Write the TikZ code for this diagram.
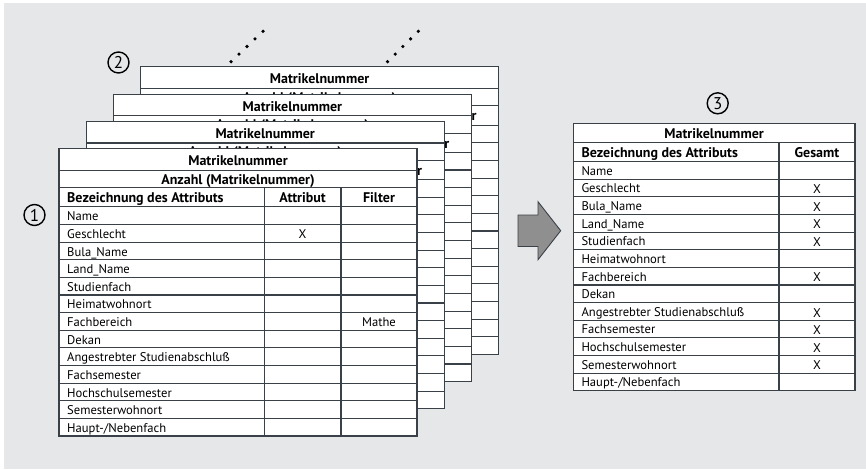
\documentclass[tikz,border=0pt]{standalone}
\usepackage{fontspec}
\setmainfont{PT Sans}
\definecolor{panelbg}{HTML}{E6E7E8}
\definecolor{rulec}{HTML}{3A4048}
\definecolor{arrowfill}{HTML}{8F8F8F}
\begin{document}
\begin{tikzpicture}[x=1pt,y=-1pt,
  rules/.style={draw=rulec,line width=1.1pt},
  celltxt/.style={inner sep=0pt,font=\fontsize{12.6}{13}\selectfont,text=black},
  headtxt/.style={celltxt,font=\fontsize{14}{15}\selectfont\bfseries},
  numcirc/.style={circle,draw=black,line width=1.4pt,minimum size=21pt,inner sep=0pt,
    font=\fontsize{17}{17}\selectfont},
  dotmark/.style={fill=black}]

% canvas
\useasboundingbox (0,0) rectangle (866,469);
\fill[panelbg] (4,3) rectangle (866,469);

% row names of the attribute list
\def\attrlist{Name,Geschlecht,Bula\_Name,Land\_Name,Studienfach,Heimatwohnort,Fachbereich,Dekan,Angestrebter Studienabschluß,Fachsemester,Hochschulsemester,Semesterwohnort,Haupt-/Nebenfach}

% grid and title rows of one selection sheet: #1 name, #2/#3 top left corner
\newcommand\sheetgrid[3]{%
  \begin{scope}[shift={(#2,#3)}]
    \fill[white] (0,0) rectangle (358,287.5);
    \draw[rules] (0,0) rectangle (358,287.5);
    \draw[rules] (0,21.7) -- (358,21.7);
    \draw[rules] (0,39) -- (358,39);
    \draw[rules] (0,58.3) -- (358,58.3);
    \foreach \k in {1,...,12}{\draw[rules] (0,58.3+17.63*\k) -- (358,58.3+17.63*\k);}
    \draw[rules] (205.3,39) -- (205.3,287.5);
    \draw[rules] (282,39) -- (282,287.5);
    \node[headtxt,anchor=base] (#1-t1) at (179,17) {Matrikelnummer};
    \node[headtxt,anchor=base] (#1-t2) at (179,35.5) {Anzahl (Matrikelnummer)};
    \node[headtxt,anchor=base] (#1-h3) at (320,54) {Filter};
  \end{scope}}

% stack of sheets, back to front
\sheetgrid{sheetd}{140.6}{66.9}
\sheetgrid{sheetc}{113.4}{94.1}
\sheetgrid{sheetb}{86.2}{121.3}
\sheetgrid{sheeta}{59}{148.5}

% contents of the front sheet
\begin{scope}[shift={(59,148.5)}]
  \node[headtxt,anchor=base west] (sheeta-h1) at (8,54) {Bezeichnung des Attributs};
  \node[headtxt,anchor=base] (sheeta-h2) at (243.6,54) {Attribut};
  \foreach \a [count=\i] in \attrlist{
    \node[celltxt,anchor=base west] (sheeta-r\i) at (8,58.3+17.63*\i-3.6) {\a};}
  \node[celltxt,anchor=base] (sheeta-x) at (243.6,58.3+17.63*2-3.6) {X};
  \node[celltxt,anchor=base] (sheeta-f) at (320,58.3+17.63*7-3.6) {Mathe};
\end{scope}

% continuation dots above the stack
\foreach \j in {0,...,4}{
  \fill[dotmark] (231+8*\j,61.7-7.6*\j) circle (1.8);
  \fill[dotmark] (387.5+7.7*\j,61.7-7.6*\j) circle (1.8);}

% step markers
\node[numcirc] (m1) at (34.5,215) {1};
\node[numcirc] (m2) at (118.5,62.5) {2};
\node[numcirc] (m3) at (717.7,103.3) {3};

% block arrow
\draw[fill=arrowfill,draw=rulec,line width=0.9pt]
  (518,215) -- (538,215) -- (538,201.7) -- (560.7,230.7) -- (538,259.7)
  -- (538,246.5) -- (518,246.5) -- cycle;

% result table
\begin{scope}[shift={(573.3,123.3)}]
  \fill[white] (0,0) rectangle (281.7,267.4);
  \draw[rules] (0,0) rectangle (281.7,267.4);
  \draw[rules] (0,19) -- (281.7,19);
  \draw[rules] (0,38.4) -- (281.7,38.4);
  \foreach \k in {1,...,12}{\draw[rules] (0,38.4+17.62*\k) -- (281.7,38.4+17.62*\k);}
  \draw[rules] (205.7,19) -- (205.7,267.4);
  \node[headtxt,anchor=base] (res-t1) at (140.8,15) {Matrikelnummer};
  \node[headtxt,anchor=base west] (res-h1) at (8,34.2) {Bezeichnung des Attributs};
  \node[headtxt,anchor=base] (res-h2) at (243.7,34.2) {Gesamt};
  \foreach \a [count=\i] in \attrlist{
    \node[celltxt,anchor=base west] (res-r\i) at (8,38.4+17.62*\i-4) {\a};}
  \foreach \i in {2,3,4,5,7,9,10,11,12}{
    \node[celltxt,anchor=base] (res-x\i) at (243.7,38.4+17.62*\i-3.2) {X};}
\end{scope}
\end{tikzpicture}
\end{document}
